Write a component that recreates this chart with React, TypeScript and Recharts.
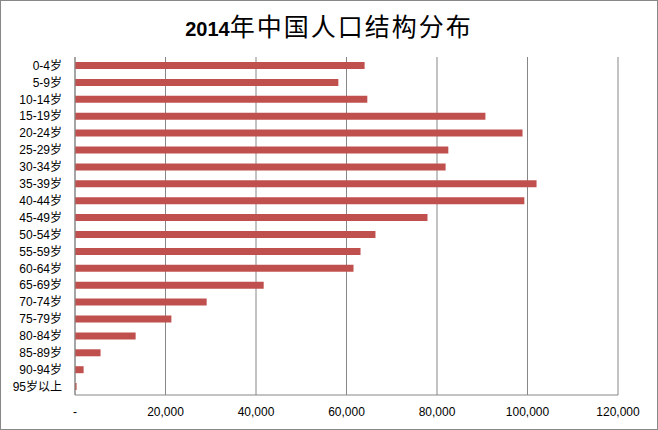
import { BarChart, Bar, XAxis, YAxis, CartesianGrid } from 'recharts';

document.body.style.margin = '0';

const ageGroups = [
  '0-4岁', '5-9岁', '10-14岁', '15-19岁', '20-24岁', '25-29岁', '30-34岁',
  '35-39岁', '40-44岁', '45-49岁', '50-54岁', '55-59岁', '60-64岁', '65-69岁',
  '70-74岁', '75-79岁', '80-84岁', '85-89岁', '90-94岁', '95岁以上',
];

const population = [
  64000, 58200, 64600, 90700, 98900, 82500, 81900,
  102000, 99300, 77900, 66400, 63100, 61550, 41700,
  29100, 21300, 13400, 5650, 1900, 350,
];

const xTicks = [0, 20000, 40000, 60000, 80000, 100000, 120000];

const data = ageGroups.map((age, i) => ({ age, value: population[i] }));

const font = '"Liberation Sans", "Noto Sans CJK SC", sans-serif';
const gray = '#878787';

const formatTick = (v: number) => (v === 0 ? '-' : v.toLocaleString('en-US'));

export default function App() {
  return (
    <div style={{ position: 'relative', width: 658, height: 430, background: '#fff', fontFamily: font }}>
      <div
        style={{
          position: 'absolute',
          top: 9,
          left: 0,
          width: 658,
          textAlign: 'center',
          color: '#000',
          lineHeight: '32px',
          whiteSpace: 'nowrap',
        }}
      >
        <span style={{ fontSize: 20, fontWeight: 'bold' }}>2014</span>
        <span style={{ fontSize: 25, letterSpacing: 2, fontFamily: '"Noto Sans CJK SC", sans-serif' }}>
          年中国人口结构分布
        </span>
      </div>
      <BarChart
        width={658}
        height={430}
        data={data}
        layout="vertical"
        margin={{ top: 57, right: 40, bottom: 0, left: 0 }}
        barCategoryGap={0}
      >
        <CartesianGrid horizontal={false} stroke={gray} />
        <XAxis
          type="number"
          domain={[0, 120000]}
          ticks={xTicks}
          tickFormatter={formatTick}
          height={35}
          tickLine={false}
          tickSize={0}
          tickMargin={12}
          axisLine={{ stroke: gray }}
          tick={{ fill: '#000', fontSize: 12, fontFamily: font }}
          interval={0}
        />
        <YAxis
          type="category"
          dataKey="age"
          width={75}
          tickLine={false}
          tickSize={0}
          tickMargin={13}
          axisLine={{ stroke: gray }}
          tick={{ fill: '#000', fontSize: 12, fontFamily: font }}
          interval={0}
        />
        <Bar dataKey="value" fill="#C0504D" barSize={7} isAnimationActive={false} />
      </BarChart>
      <div
        style={{
          position: 'absolute',
          inset: 0,
          border: '1px solid #888',
          boxSizing: 'border-box',
          pointerEvents: 'none',
        }}
      />
    </div>
  );
}
